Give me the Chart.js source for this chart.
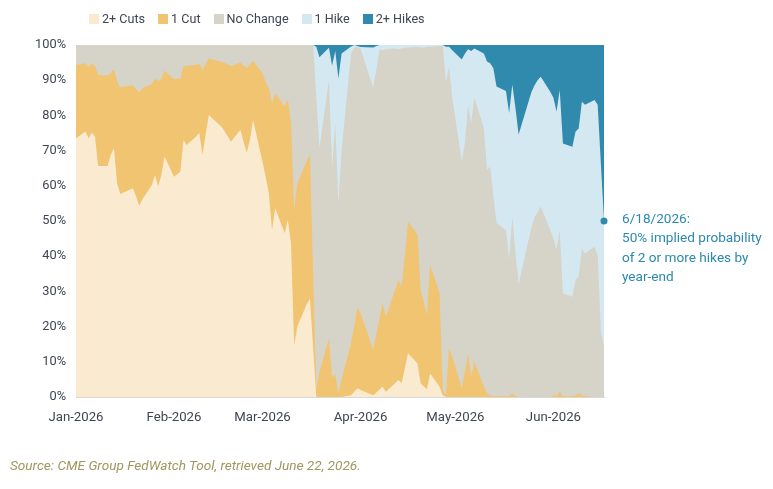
<!DOCTYPE html>
<html>
<head>
<meta charset="utf-8">
<script src="https://cdn.jsdelivr.net/npm/chart.js@4.4.1/dist/chart.umd.min.js"></script>
<style>
  body { margin: 0; background: #fff; font-family: Roboto, sans-serif; }
  #wrap { position: relative; width: 773px; height: 489px; }
  #legend { position: absolute; left: 89px; top: 11px; display: flex; font-size: 12.6px; color: #3f4552; line-height: 16px; }
  #legend .item { display: flex; align-items: center; margin-right: 13px; }
  #legend .box { width: 10px; height: 10px; margin-right: 3px; }
  #note { position: absolute; left: 622px; top: 209px; font-size: 13.6px; line-height: 19.3px; color: #2b88ae; }
  #source { position: absolute; left: 10px; top: 457px; font-size: 13.6px; font-style: italic; color: #a3955f; }
</style>
</head>
<body>
<div id="wrap">
  <canvas id="chart" width="773" height="489"></canvas>
  <div id="legend"></div>
  <div id="note">6/18/2026:<br>50% implied probability<br>of 2 or more hikes by<br>year-end</div>
  <div id="source">Source: CME Group FedWatch Tool, retrieved June 22, 2026.</div>
</div>
<script>
const dates = [
    '2026-01-02', '2026-01-05', '2026-01-06', '2026-01-07', '2026-01-08', '2026-01-09',
    '2026-01-12', '2026-01-13', '2026-01-14', '2026-01-15', '2026-01-16',
    '2026-01-20', '2026-01-21', '2026-01-22', '2026-01-23',
    '2026-01-26', '2026-01-27', '2026-01-28', '2026-01-29', '2026-01-30',
    '2026-02-02', '2026-02-03', '2026-02-04', '2026-02-05', '2026-02-06',
    '2026-02-09', '2026-02-10', '2026-02-11', '2026-02-12', '2026-02-13',
    '2026-02-17', '2026-02-18', '2026-02-19', '2026-02-20',
    '2026-02-23', '2026-02-24', '2026-02-25', '2026-02-26', '2026-02-27',
    '2026-03-02', '2026-03-03', '2026-03-04', '2026-03-05', '2026-03-06',
    '2026-03-09', '2026-03-10', '2026-03-11', '2026-03-12', '2026-03-13',
    '2026-03-16', '2026-03-17', '2026-03-18', '2026-03-19', '2026-03-20',
    '2026-03-23', '2026-03-24', '2026-03-25', '2026-03-26', '2026-03-27',
    '2026-03-30', '2026-03-31', '2026-04-01', '2026-04-02',
    '2026-04-06', '2026-04-07', '2026-04-08', '2026-04-09', '2026-04-10',
    '2026-04-13', '2026-04-14', '2026-04-15', '2026-04-16', '2026-04-17',
    '2026-04-20', '2026-04-21', '2026-04-22', '2026-04-23', '2026-04-24',
    '2026-04-27', '2026-04-28', '2026-04-29', '2026-04-30', '2026-05-01',
    '2026-05-04', '2026-05-05', '2026-05-06', '2026-05-07', '2026-05-08',
    '2026-05-11', '2026-05-12', '2026-05-13', '2026-05-14', '2026-05-15',
    '2026-05-18', '2026-05-19', '2026-05-20', '2026-05-21', '2026-05-22',
    '2026-05-26', '2026-05-27', '2026-05-28', '2026-05-29',
    '2026-06-01', '2026-06-02', '2026-06-03', '2026-06-04', '2026-06-05',
    '2026-06-08', '2026-06-09', '2026-06-10', '2026-06-11', '2026-06-12',
    '2026-06-15', '2026-06-16', '2026-06-17', '2026-06-18'
];

// probabilities in %, one value per trading day
const cutsTwo = [
    73.5, 75.4, 73.5, 75.1, 74.0, 65.6,
    65.6, 68.8, 70.7, 60.7, 57.7,
    59.3, 57.0, 54.3, 56.2,
    60.2, 63.1, 59.9, 63.1, 68.3,
    62.6, 63.3, 64.0, 73.0, 71.6,
    74.0, 75.1, 68.8, 74.5, 80.1,
    76.8, 75.5, 74.0, 72.5,
    75.9, 72.5, 69.4, 73.0, 78.7,
    66.8, 62.5, 57.9, 47.4, 53.6,
    46.5, 50.3, 43.7, 14.8, 20.0,
    26.4, 28.0, 14.0, 0, 0,
    0, 0, 0, 0, 0,
    0.5, 1.5, 2.5, 2.0,
    0.5, 1.3, 2.1, 2.9, 1.5,
    4.0, 4.8, 4.0, 8.0, 12.4,
    9.6, 3.9, 3.0, 2.2, 6.7,
    2.9, 0.5, 0, 0, 0,
    0, 0, 0, 0, 0,
    0, 0, 0, 0, 0,
    0, 0, 0, 0, 0,
    0, 0, 0, 0,
    0, 0, 0, 0, 0,
    0, 0, 0, 0, 0,
    0, 0, 0, 0
];

const cutOne = [
    20.8, 19.4, 20.3, 19.5, 20.0, 25.9,
    25.7, 23.2, 22.4, 28.9, 30.3,
    29.3, 30.5, 32.2, 31.5,
    28.7, 27.4, 29.7, 27.4, 24.4,
    27.7, 27.1, 26.5, 21.0, 22.4,
    20.4, 19.5, 24.1, 20.0, 16.1,
    18.4, 19.4, 20.5, 21.5,
    19.1, 21.7, 24.0, 21.5, 16.8,
    25.1, 27.0, 29.8, 36.0, 32.7,
    36.0, 34.3, 34.3, 38.2, 40.7,
    40.6, 40.8, 21.0, 2.0, 7.0,
    16.7, 5.5, 6.5, 1.0, 5.0,
    14.8, 18.5, 23.1, 21.8,
    12.9, 16.5, 20.1, 23.7, 21.3,
    26.6, 28.4, 27.3, 32.0, 37.4,
    36.6, 26.5, 24.0, 21.1, 30.8,
    26.6, 1.5, 0.6, 13.8, 11.5,
    2.5, 7.0, 12.4, 5.8, 10.0,
    3.0, 1.0, 0.5, 0.3, 0.3,
    0.3, 0.3, 1.0, 0.3, 0,
    0, 0, 0, 0,
    0, 0.5, 0.3, 1.5, 0.3,
    0.3, 0.5, 1.0, 0.5, 0.3,
    0, 0, 0, 0
];

const noChange = [
    5.7, 5.2, 6.2, 5.4, 6.0, 8.5,
    8.7, 8.0, 6.9, 10.4, 12.0,
    11.4, 12.5, 13.5, 12.3,
    11.1, 9.5, 10.4, 9.5, 7.3,
    9.7, 9.6, 9.5, 6.0, 6.0,
    5.6, 5.4, 7.1, 5.5, 3.8,
    4.8, 5.1, 5.5, 6.0,
    5.0, 5.8, 6.6, 5.5, 4.5,
    8.1, 10.5, 12.3, 16.6, 13.7,
    17.5, 15.4, 22.0, 47.0, 39.3,
    33.0, 31.2, 65.0, 83.0, 63.7,
    73.3, 59.5, 71.3, 54.0, 65.0,
    82.3, 79.3, 73.9, 75.2,
    74.3, 75.2, 76.6, 71.9, 76.0,
    68.4, 65.6, 67.7, 59.2, 49.5,
    53.3, 68.9, 72.2, 76.2, 62.0,
    70.2, 97.8, 89.0, 80.0, 73.5,
    64.5, 65.0, 70.6, 72.0, 75.0,
    73.3, 63.5, 64.9, 56.7, 49.1,
    47.1, 38.7, 50.2, 40.7, 32.0,
    48.0, 51.0, 52.5, 54.1,
    47.4, 44.5, 41.5, 45.9, 29.2,
    28.2, 32.7, 33.2, 41.7, 40.5,
    42.7, 40.3, 18.6, 14.3
];

const hikeOne = [
    0, 0, 0, 0, 0, 0,
    0, 0, 0, 0, 0,
    0, 0, 0, 0,
    0, 0, 0, 0, 0,
    0, 0, 0, 0, 0,
    0, 0, 0, 0, 0,
    0, 0, 0, 0,
    0, 0, 0, 0, 0,
    0, 0, 0, 0, 0,
    0, 0, 0, 0, 0,
    0, 0, 0, 14.5, 25.8,
    9.2, 29.2, 20.5, 35.5, 27.6,
    2.0, 0.7, 0.2, 0.4,
    11.6, 6.7, 1.2, 1.5, 1.2,
    1.0, 1.2, 1.0, 0.8, 0.7,
    0.5, 0.7, 0.8, 0.5, 0.5,
    0.3, 0.2, 9.9, 5.7, 13.5,
    28.9, 25.5, 15.8, 20.5, 14.0,
    21.3, 30.8, 29.4, 36.4, 38.8,
    39.5, 41.7, 37.6, 41.0, 42.6,
    38.5, 37.5, 37.5, 36.9,
    39.3, 40.0, 39.3, 39.8, 42.5,
    42.6, 42.2, 42.1, 41.7, 42.2,
    41.7, 42.7, 47.9, 35.7
];

const hikesTwo = [
    0, 0, 0, 0, 0, 0,
    0, 0, 0, 0, 0,
    0, 0, 0, 0,
    0, 0, 0, 0, 0,
    0, 0, 0, 0, 0,
    0, 0, 0, 0, 0,
    0, 0, 0, 0,
    0, 0, 0, 0, 0,
    0, 0, 0, 0, 0,
    0, 0, 0, 0, 0,
    0, 0, 0, 0.5, 3.5,
    0.8, 5.8, 1.7, 9.5, 2.4,
    0.4, 0, 0.3, 0.6,
    0.7, 0.3, 0, 0, 0,
    0, 0, 0, 0, 0,
    0, 0, 0, 0, 0,
    0, 0, 0.5, 0.5, 1.5,
    4.1, 2.5, 1.2, 1.7, 1.0,
    2.4, 4.7, 5.2, 6.6, 11.8,
    13.1, 19.3, 11.2, 18.0, 25.4,
    13.5, 11.5, 10.0, 9.0,
    13.3, 15.0, 18.9, 12.8, 28.0,
    28.9, 24.6, 23.7, 16.1, 17.0,
    15.6, 17.0, 33.5, 50.0
];

const tickDates = ['2026-01-02', '2026-02-02', '2026-03-02', '2026-04-02', '2026-05-02', '2026-06-02'];
const tickLabels = ['Jan-2026', 'Feb-2026', 'Mar-2026', 'Apr-2026', 'May-2026', 'Jun-2026'];

const seriesNames = ['2+ Cuts', '1 Cut', 'No Change', '1 Hike', '2+ Hikes'];
const seriesColors = ['#faeacf', '#f1c471', '#d6d3c8', '#d3e8f1', '#308aad'];

function dayOf(s) {
    const p = s.split('-').map(Number);
    return (Date.UTC(p[0], p[1] - 1, p[2]) - Date.UTC(2026, 0, 1)) / 86400000;
}

const xs = dates.map(dayOf);
const tickDays = tickDates.map(dayOf);
const lastIndex = dates.length - 1;

function makeDataset(index, values) {
    return {
        label: seriesNames[index],
        data: values.map((v, i) => ({ x: xs[i], y: v })),
        backgroundColor: seriesColors[index],
        borderWidth: 0,
        fill: 'origin',
        pointRadius: 0,
        tension: 0
    };
}

const datasets = [
    makeDataset(0, cutsTwo),
    makeDataset(1, cutOne),
    makeDataset(2, noChange),
    makeDataset(3, hikeOne),
    makeDataset(4, hikesTwo)
];

// marker on the last day, where 2+ Hikes sits on top of 1 Hike
datasets[3].pointRadius = ctx => ctx.dataIndex === lastIndex ? 3.5 : 0;
datasets[3].pointBackgroundColor = seriesColors[4];
datasets[3].pointBorderWidth = 0;
datasets[3].clip = false;

const legend = document.getElementById('legend');
seriesNames.forEach((name, i) => {
    const item = document.createElement('div');
    item.className = 'item';
    item.innerHTML = '<span class="box" style="background:' + seriesColors[i] + '"></span>' + name;
    legend.appendChild(item);
});

new Chart(document.getElementById('chart'), {
    type: 'line',
    data: { datasets: datasets },
    options: {
        responsive: false,
        animation: false,
        layout: { padding: { left: 0, top: 45, right: 169, bottom: 0 } },
        plugins: { legend: { display: false }, tooltip: { enabled: false } },
        scales: {
            x: {
                type: 'linear',
                min: xs[0],
                max: xs[lastIndex],
                grid: { display: false, drawTicks: false },
                border: { display: true, color: '#d9d9d9', width: 1 },
                afterBuildTicks: scale => {
                    scale.ticks = tickDays.map(v => ({ value: v }));
                },
                afterFit: scale => { scale.height = 92; },
                ticks: {
                    padding: 13,
                    maxRotation: 0,
                    autoSkip: false,
                    color: '#3f4552',
                    font: { family: 'Roboto', size: 13.2 },
                    callback: value => tickLabels[tickDays.indexOf(value)]
                }
            },
            y: {
                stacked: true,
                min: 0,
                max: 100,
                grid: { display: false, drawTicks: false },
                border: { display: false },
                afterFit: scale => { scale.width = 76; },
                ticks: {
                    stepSize: 10,
                    padding: 10,
                    color: '#3f4552',
                    font: { family: 'Roboto', size: 12.8 },
                    callback: value => value + '%'
                }
            }
        }
    }
});
</script>
</body>
</html>
